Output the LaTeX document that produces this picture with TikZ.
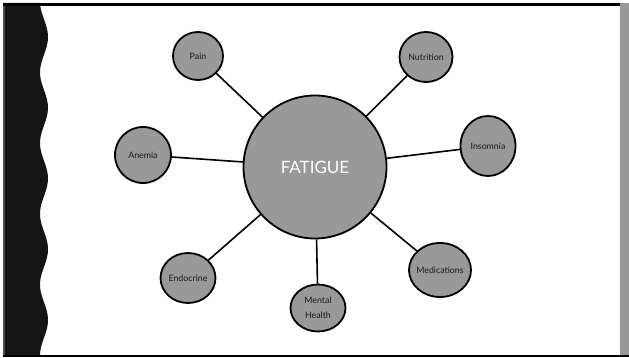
\documentclass[tikz,border=0pt]{standalone}
\usepackage{fontspec}
\setmainfont{Lato}
\usetikzlibrary{shapes.geometric}
\definecolor{discgray}{RGB}{153,153,153}
\definecolor{bandblack}{RGB}{20,20,20}
\tikzset{
  hub/.style={circle, draw=black, fill=discgray, line width=1.8pt, minimum size=143pt, inner sep=0pt, text=white, font=\fontsize{17}{20}\selectfont},
  factor/.style={ellipse, draw=black, fill=discgray, line width=1.8pt, inner sep=0pt,
    label={[font=\fontsize{8.8}{15.5}\selectfont, text=black!90, align=center]center:#1}},
  spoke/.style={draw=black, line width=1.6pt}
}
\begin{document}
\begin{tikzpicture}[x=1pt, y=-1pt]
\useasboundingbox (0,0) rectangle (629,358);
% frame of the slide
\fill[bandblack] (3,3) -- (40,3) -- plot[domain=3:356, samples=120] ({44+4*cos((\x-37)/70.75*360)},\x) -- (3,356) -- cycle;
\draw[black!70, line width=1.5pt] (3.75,3) -- (3.75,357);
\fill[discgray] (620,3) rectangle (629,355);
\draw[line width=2.7pt] (3,4.7) -- (620,4.7);
\draw[line width=2.5pt] (3,356) -- (629,356);
% hub and factors
\node[hub] (fatigue) at (315,167) {FATIGUE};
\node[factor=Pain, minimum width=50pt, minimum height=48pt] (pain) at (198,56) {};
\node[factor=Nutrition, minimum width=53pt, minimum height=50pt] (nutrition) at (426,57) {};
\node[factor=Anemia, minimum width=56pt, minimum height=56pt] (anemia) at (143,155) {};
\node[factor=Insomnia, minimum width=55pt, minimum height=60pt] (insomnia) at (488,146) {};
\node[factor=Endocrine, minimum width=55pt, minimum height=50pt] (endocrine) at (188,278) {};
\node[factor=Medications, minimum width=62pt, minimum height=54pt] (medications) at (440,270) {};
\node[factor={Mental\\Health}, minimum width=55pt, minimum height=47pt] (mental) at (318,308) {};
\foreach \f in {pain,nutrition,anemia,insomnia,endocrine,medications,mental}
  \draw[spoke] (fatigue) -- (\f);
\end{tikzpicture}
\end{document}
